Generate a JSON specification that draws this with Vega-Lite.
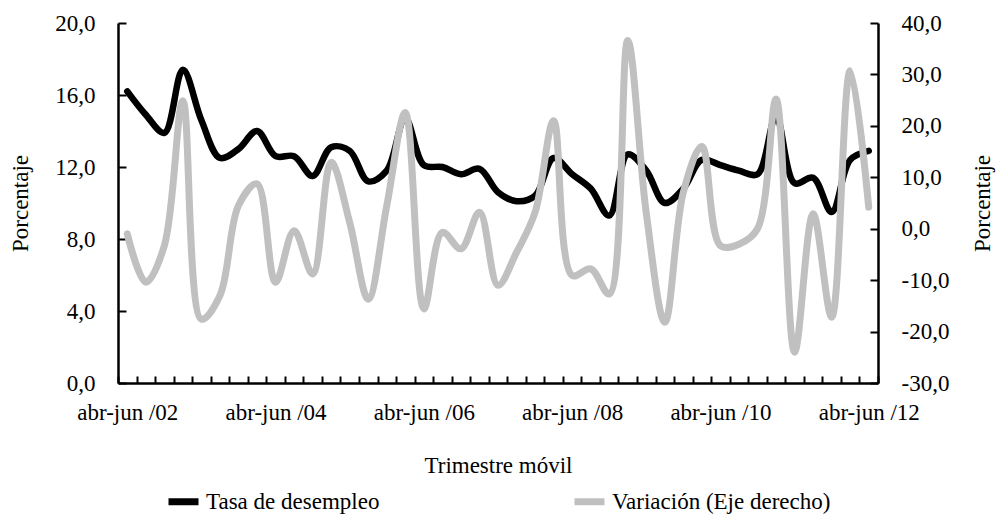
{
  "$schema": "https://vega.github.io/schema/vega-lite/v6.json",
  "width": 760,
  "height": 360,
  "autosize": {"type": "none"},
  "padding": {"left": 118, "top": 23, "right": 122, "bottom": 133},
  "config": {
    "locale": {"number": {"decimal": ",", "thousands": ".", "grouping": [3], "currency": ["", " €"], "minus": "-"}},
    "font": "Liberation Serif",
    "view": {"stroke": null},
    "axis": {
      "labelFont": "Liberation Serif", "labelFontSize": 23, "labelColor": "black",
      "titleFont": "Liberation Serif", "titleFontSize": 23, "titleFontWeight": "normal", "titleColor": "black",
      "domainColor": "black", "domainWidth": 2.5, "tickColor": "black", "tickWidth": 2, "grid": false
    }
  },
  "data": {"values": [
    {"t": "abr-jun /02", "tasa": 16.2, "variacion": -1.0},
    {"t": "jul-sep /02", "tasa": 14.9, "variacion": -10.4},
    {"t": "oct-dic /02", "tasa": 13.9, "variacion": -3.3},
    {"t": "ene-mar /03", "tasa": 17.4, "variacion": 24.9},
    {"t": "abr-jun /03", "tasa": 14.6, "variacion": -17.6},
    {"t": "jul-sep /03", "tasa": 12.5, "variacion": -13.0},
    {"t": "oct-dic /03", "tasa": 13.0, "variacion": 4.5},
    {"t": "ene-mar /04", "tasa": 14.0, "variacion": 8.7},
    {"t": "abr-jun /04", "tasa": 12.6, "variacion": -10.4},
    {"t": "jul-sep /04", "tasa": 12.6, "variacion": -0.4},
    {"t": "oct-dic /04", "tasa": 11.5, "variacion": -8.8},
    {"t": "ene-mar /05", "tasa": 13.1, "variacion": 12.9},
    {"t": "abr-jun /05", "tasa": 12.9, "variacion": 1.2},
    {"t": "jul-sep /05", "tasa": 11.2, "variacion": -13.7},
    {"t": "oct-dic /05", "tasa": 11.8, "variacion": 4.5},
    {"t": "ene-mar /06", "tasa": 14.7, "variacion": 22.6},
    {"t": "abr-jun /06", "tasa": 12.1, "variacion": -15.6},
    {"t": "jul-sep /06", "tasa": 12.0, "variacion": -0.7},
    {"t": "oct-dic /06", "tasa": 11.6, "variacion": -3.9},
    {"t": "ene-mar /07", "tasa": 11.9, "variacion": 3.2},
    {"t": "abr-jun /07", "tasa": 10.6, "variacion": -11.0},
    {"t": "jul-sep /07", "tasa": 10.1, "variacion": -4.6},
    {"t": "oct-dic /07", "tasa": 10.4, "variacion": 3.2},
    {"t": "ene-mar /08", "tasa": 12.5, "variacion": 21.0},
    {"t": "abr-jun /08", "tasa": 11.6, "variacion": -9.1},
    {"t": "jul-sep /08", "tasa": 10.8, "variacion": -7.8},
    {"t": "oct-dic /08", "tasa": 9.3, "variacion": -12.7},
    {"t": "ene-mar /09", "tasa": 12.7, "variacion": 36.6},
    {"t": "abr-jun /09", "tasa": 11.8, "variacion": 3.0},
    {"t": "jul-sep /09", "tasa": 10.0, "variacion": -18.2},
    {"t": "oct-dic /09", "tasa": 10.8, "variacion": 7.1},
    {"t": "ene-mar /10", "tasa": 12.4, "variacion": 16.0},
    {"t": "abr-jun /10", "tasa": 12.1, "variacion": -3.3},
    {"t": "jul-sep /10", "tasa": 11.8, "variacion": -3.0},
    {"t": "oct-dic /10", "tasa": 11.6, "variacion": 0.0},
    {"t": "ene-mar /11", "tasa": 14.8, "variacion": 25.2},
    {"t": "abr-jun /11", "tasa": 11.1, "variacion": -24.0},
    {"t": "jul-sep /11", "tasa": 11.4, "variacion": 2.9},
    {"t": "oct-dic /11", "tasa": 9.5, "variacion": -17.2},
    {"t": "ene-mar /12", "tasa": 12.4, "variacion": 30.7},
    {"t": "abr-jun /12", "tasa": 12.9, "variacion": 4.2}
  ]},
  "encoding": {
    "x": {
      "field": "t", "type": "ordinal", "sort": null,
      "scale": {"paddingInner": 0, "paddingOuter": 0},
      "axis": {
        "title": "Trimestre móvil",
        "labelAngle": 0,
        "labelOverlap": false,
        "tickBand": "extent",
        "tickSize": -7,
        "labelPadding": 25,
        "titlePadding": 30,
        "labelExpr": "indexof(['abr-jun /02','abr-jun /04','abr-jun /06','abr-jun /08','abr-jun /10','abr-jun /12'], datum.value) >= 0 ? datum.label : ''"
      }
    }
  },
  "layer": [
    {
      "mark": {"type": "line", "interpolate": "catmull-rom", "strokeWidth": 6.5, "strokeCap": "round", "strokeJoin": "round"},
      "encoding": {
        "y": {
          "field": "tasa", "type": "quantitative",
          "scale": {"domain": [0, 20], "nice": false, "zero": false},
          "axis": {"values": [0, 4, 8, 12, 16, 20], "format": ".1f", "title": "Porcentaje", "tickSize": -8, "labelPadding": 31, "titlePadding": 22}
        },
        "color": {
          "datum": "Tasa de desempleo",
          "scale": {"domain": ["Tasa de desempleo", "Variación (Eje derecho)"], "range": ["#000000", "#c0c0c0"]},
          "legend": {
            "orient": "none", "legendX": 47, "legendY": 460, "direction": "horizontal", "title": null,
            "symbolType": "stroke", "symbolSize": 900, "symbolStrokeWidth": 7,
            "labelFont": "Liberation Serif", "labelFontSize": 23, "labelColor": "black", "labelLimit": 400,
            "labelOffset": 4, "columnPadding": 180
          }
        }
      }
    },
    {
      "mark": {"type": "line", "interpolate": "catmull-rom", "strokeWidth": 7, "strokeCap": "round", "strokeJoin": "round"},
      "encoding": {
        "y": {
          "field": "variacion", "type": "quantitative",
          "scale": {"domain": [-30, 40], "nice": false, "zero": false},
          "axis": {"orient": "right", "values": [-30, -20, -10, 0, 10, 20, 30, 40], "format": ".1f", "title": "Porcentaje", "titleAngle": -90, "tickSize": -8, "labelPadding": 31, "titlePadding": 46}
        },
        "color": {"datum": "Variación (Eje derecho)"}
      }
    }
  ],
  "resolve": {"scale": {"y": "independent"}}
}
